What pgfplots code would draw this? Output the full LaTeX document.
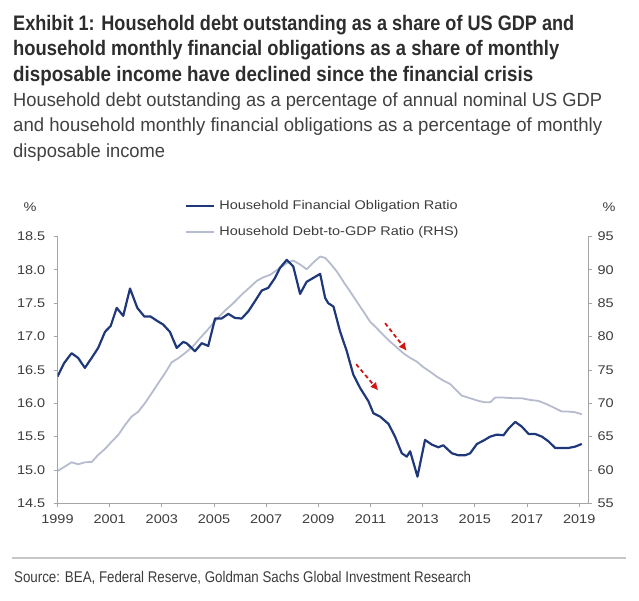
\documentclass[border=0pt]{standalone}
\usepackage{graphicx}
\usepackage{pgfplots}
\pgfplotsset{compat=1.18}
\usetikzlibrary{arrows.meta}
\usepackage{fontspec}
\setmainfont{Liberation Sans}
\newfontfamily\chartfont[FakeStretch=1.15]{Liberation Sans}
\definecolor{navy}{RGB}{31,56,122}
\definecolor{lgray}{RGB}{182,188,206}
\definecolor{axgray}{RGB}{165,165,165}
\definecolor{txt}{RGB}{60,60,60}
\definecolor{titlecol}{RGB}{45,45,45}
\definecolor{subcol}{RGB}{65,65,65}
\definecolor{arrowred}{RGB}{210,20,20}
\newcommand{\cf}{\chartfont\fontsize{12.6}{15}\selectfont}

\pgfplotstableread{
year fo
1999.00 16.40
1999.25 16.60
1999.54 16.75
1999.79 16.68
2000.05 16.53
2000.31 16.68
2000.56 16.83
2000.82 17.07
2001.04 17.16
2001.27 17.43
2001.52 17.31
2001.78 17.72
2002.06 17.43
2002.33 17.30
2002.57 17.30
2002.80 17.24
2003.05 17.18
2003.31 17.07
2003.57 16.83
2003.82 16.92
2003.95 16.90
2004.27 16.78
2004.53 16.90
2004.78 16.86
2005.04 17.27
2005.29 17.27
2005.55 17.34
2005.80 17.28
2006.06 17.27
2006.32 17.38
2006.57 17.53
2006.83 17.69
2007.08 17.73
2007.34 17.88
2007.53 18.03
2007.79 18.15
2008.04 18.05
2008.30 17.64
2008.55 17.82
2008.81 17.88
2009.07 17.94
2009.26 17.58
2009.38 17.50
2009.58 17.45
2009.83 17.08
2010.09 16.78
2010.34 16.43
2010.60 16.23
2010.92 16.03
2011.11 15.85
2011.37 15.80
2011.69 15.69
2011.94 15.50
2012.20 15.25
2012.39 15.20
2012.52 15.28
2012.80 14.90
2013.09 15.45
2013.35 15.38
2013.60 15.34
2013.79 15.37
2014.12 15.25
2014.37 15.22
2014.63 15.22
2014.82 15.25
2015.08 15.39
2015.33 15.44
2015.59 15.50
2015.84 15.53
2016.10 15.52
2016.29 15.62
2016.55 15.72
2016.80 15.65
2017.06 15.54
2017.31 15.54
2017.57 15.50
2017.82 15.43
2018.08 15.33
2018.34 15.33
2018.59 15.33
2018.85 15.35
2019.10 15.39
}\obligation

\pgfplotstableread{
year debt
1999.00 59.85
1999.28 60.50
1999.54 61.15
1999.79 60.85
2000.05 61.15
2000.31 61.20
2000.56 62.25
2000.82 63.15
2001.08 64.25
2001.33 65.25
2001.59 66.75
2001.84 68.00
2002.10 68.75
2002.35 70.00
2002.61 71.50
2002.86 73.00
2003.12 74.50
2003.38 76.15
2003.63 76.75
2003.85 77.40
2004.08 78.15
2004.21 78.60
2004.45 79.70
2004.72 80.85
2004.97 82.00
2005.23 83.15
2005.48 84.10
2005.74 85.00
2006.12 86.50
2006.38 87.40
2006.64 88.35
2006.90 88.90
2007.15 89.25
2007.53 90.30
2007.79 91.00
2008.04 91.40
2008.30 90.80
2008.55 90.10
2008.81 91.10
2009.07 92.00
2009.26 91.80
2009.45 91.00
2009.71 89.75
2010.00 88.00
2010.22 86.75
2010.48 85.20
2010.73 83.75
2010.98 82.25
2011.24 81.25
2011.50 80.20
2011.75 79.25
2012.00 78.40
2012.26 77.50
2012.52 76.80
2012.77 76.25
2013.03 75.40
2013.28 74.75
2013.54 74.00
2013.79 73.40
2014.05 72.90
2014.24 72.15
2014.50 71.15
2014.82 70.75
2015.14 70.35
2015.39 70.15
2015.59 70.15
2015.78 70.85
2016.10 70.85
2016.50 70.75
2016.80 70.75
2017.12 70.50
2017.44 70.35
2017.76 69.85
2018.08 69.25
2018.34 68.75
2018.59 68.75
2018.85 68.65
2019.10 68.35
}\debt

\begin{document}
\begin{tikzpicture}[x=1pt,y=1pt]
\path (0,0) rectangle (639,600);
% title
\node[anchor=base west, inner sep=0, text=titlecol] at (13,569.3) {\resizebox{561pt}{\height}{\fontsize{21}{22}\selectfont\bfseries Exhibit 1: Household debt outstanding as a share of US GDP and}};
\node[anchor=base west, inner sep=0, text=titlecol] at (13,544.0) {\resizebox{546pt}{\height}{\fontsize{21}{22}\selectfont\bfseries household monthly financial obligations as a share of monthly}};
\node[anchor=base west, inner sep=0, text=titlecol] at (13,518.5) {\resizebox{520pt}{\height}{\fontsize{21}{22}\selectfont\bfseries disposable income have declined since the financial crisis}};
% subtitle
\node[anchor=base west, inner sep=0, text=subcol] at (13,493.3) {\resizebox{589pt}{\height}{\fontsize{19}{21}\selectfont Household debt outstanding as a percentage of annual nominal US GDP}};
\node[anchor=base west, inner sep=0, text=subcol] at (13,468.0) {\resizebox{589pt}{\height}{\fontsize{19}{21}\selectfont and household monthly financial obligations as a percentage of monthly}};
\node[anchor=base west, inner sep=0, text=subcol] at (13,442.5) {\resizebox{152pt}{\height}{\fontsize{19}{21}\selectfont disposable income}};
% percent labels
\node[text=txt, font=\cf] at (30,393) {\%};
\node[text=txt, font=\cf] at (609,393) {\%};

% right axis (debt to GDP)
\begin{axis}[
  at={(57.5pt,96.7pt)}, anchor=south west,
  scale only axis, width=530.8pt, height=266.8pt,
  xmin=1999, xmax=2019.35, ymin=55, ymax=95,
  axis x line=none, axis y line*=right,
  ytick={55,60,...,95},
  tick align=outside, major tick length=4pt,
  axis line style={axgray, line width=0.8pt},
  tick style={axgray, line width=0.8pt},
  /pgf/number format/assume math mode=true,
  ticklabel style={font=\cf, text=txt},
  yticklabel style={anchor=west, inner sep=0pt, xshift=5pt},
]
\addplot[lgray, line width=1.8pt, line join=round] table[x=year, y=debt] {\debt};
\end{axis}

% left axis (financial obligations)
\begin{axis}[
  at={(57.5pt,96.7pt)}, anchor=south west,
  scale only axis, width=530.8pt, height=266.8pt,
  xmin=1999, xmax=2019.35, ymin=14.5, ymax=18.5,
  axis x line*=bottom, axis y line*=left,
  xtick={1999,2001,...,2019},
  ytick={14.5,15,...,18.5},
  tick align=outside, major tick length=4pt,
  axis line style={axgray, line width=0.8pt},
  tick style={axgray, line width=0.8pt},
  /pgf/number format/assume math mode=true,
  ticklabel style={font=\cf, text=txt},
  xticklabel style={/pgf/number format/1000 sep={}, inner sep=0pt, yshift=-7pt},
  yticklabel style={/pgf/number format/.cd, fixed, fixed zerofill, precision=1, /tikz/.cd, anchor=east, inner sep=0pt, xshift=-8pt},
  legend style={at={(0.2402,1.137)}, anchor=north west, draw=none, fill=none,
    inner sep=0pt, font=\cf, text=txt, row sep=14.5pt,
    nodes={inner sep=0pt, text height=9pt, text depth=2.5pt}},
  legend cell align=left,
  legend image code/.code={\draw[#1] (0pt,0pt) -- (28pt,0pt);},
  /tikz/every odd column/.append style={column sep=4pt},
]
\addplot[navy, line width=2.2pt, line join=round] table[x=year, y=fo] {\obligation};
\addlegendentry{Household Financial Obligation Ratio}
\addlegendimage{lgray, line width=1.8pt}
\addlegendentry{Household Debt-to-GDP Ratio (RHS)}
\draw[arrowred, line width=1.8pt, dash pattern=on 4pt off 3pt, -{Latex[length=8pt,width=8pt]}] (axis cs:2011.56,17.20) -- (axis cs:2012.39,16.785);
\draw[arrowred, line width=1.8pt, dash pattern=on 4pt off 3pt, -{Latex[length=8pt,width=8pt]}] (axis cs:2010.45,16.585) -- (axis cs:2011.30,16.19);
\end{axis}

% separator and source
\draw[gray!45, line width=1.5pt] (12,42) -- (626,42);
\node[anchor=base west, inner sep=0, text=txt] at (14,18) {\resizebox{457pt}{\height}{\fontsize{15.5}{17}\selectfont Source: BEA, Federal Reserve, Goldman Sachs Global Investment Research}};
\end{tikzpicture}
\end{document}
